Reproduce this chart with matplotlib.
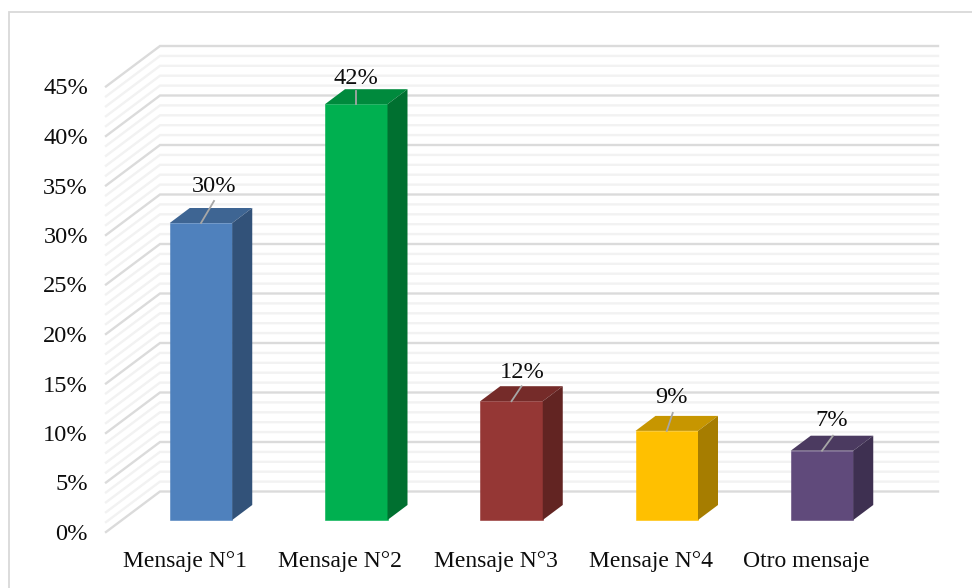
import matplotlib
matplotlib.use("Agg")
import matplotlib.pyplot as plt
from matplotlib.patches import Polygon, Rectangle

categories = ["Mensaje N°1", "Mensaje N°2", "Mensaje N°3", "Mensaje N°4", "Otro mensaje"]
values = [30, 42, 12, 9, 7]
value_labels = ["30%", "42%", "12%", "9%", "7%"]
front_colors = ["#4f81bd", "#00b050", "#953735", "#ffc000", "#604a7b"]
top_colors = ["#3e6593", "#008a3d", "#752b29", "#c79600", "#4b3a60"]
side_colors = ["#325279", "#007030", "#622422", "#a67d00", "#3e3051"]
y_ticks = list(range(0, 50, 5))
label_offsets_px = [(13, 37), (0, 26), (11, 29), (5, 33), (10, 30)]
leader_ends_px = [(13, 22), (0, 13), (10, 15), (6, 18), (11, 15)]

W, H = 972, 588
PX_X = 155.25
PX_Y = 9.9
X0_PX = 185
LEFT, RIGHT, BOTTOM, TOP = 106, 884, 532, 532 - 45 * PX_Y

plt.rcParams["font.family"] = ["Liberation Serif", "DejaVu Serif"]
fig = plt.figure(figsize=(W / 100, H / 100), dpi=100, facecolor="white")
fig.add_artist(Rectangle((9 / W, -0.05), 1.05, 1.05 - 12 / H, transform=fig.transFigure,
                         fill=False, edgecolor="#d9d9d9", linewidth=1.3))

ax = fig.add_axes([LEFT / W, 1 - BOTTOM / H, (RIGHT - LEFT) / W, (BOTTOM - TOP) / H])
ax.patch.set_alpha(0)
ax.set_xlim((LEFT - X0_PX) / PX_X, (RIGHT - X0_PX) / PX_X)
ax.set_ylim(0, 45)
for s in ax.spines.values():
    s.set_visible(False)


def px_x(p):
    return p / PX_X


def px_y(p):
    return p / PX_Y


xmin, xmax = ax.get_xlim()
back_dx, back_dy = px_x(54), px_y(40.5)
for v in range(0, 46):
    major = v % 5 == 0
    ax.plot([xmin, xmin + back_dx, xmax + back_dx], [v, v + back_dy, v + back_dy],
            color="#dbdbdb" if major else "#f2f2f2", lw=1.7,
            clip_on=False, zorder=2 if major else 1, solid_joinstyle="miter")

plane_dx, plane_dy = px_x(16), px_y(12)
bar_w = px_x(62.5)
depth_dx, depth_dy = px_x(20), px_y(15)
positions = list(range(len(categories)))
for i, v in enumerate(values):
    x0 = positions[i] + plane_dx - bar_w / 2
    x1 = x0 + bar_w
    y0 = plane_dy
    y1 = y0 + v
    ax.bar(x0 + bar_w / 2, v, width=bar_w, bottom=y0, color=front_colors[i],
           edgecolor=front_colors[i], linewidth=0.4, zorder=5, clip_on=False)
    ax.add_patch(Polygon([(x0, y1), (x1, y1), (x1 + depth_dx, y1 + depth_dy), (x0 + depth_dx, y1 + depth_dy)],
                         closed=True, facecolor=top_colors[i], edgecolor="none", zorder=5, clip_on=False))
    ax.add_patch(Polygon([(x1, y0), (x1 + depth_dx, y0 + depth_dy), (x1 + depth_dx, y1 + depth_dy), (x1, y1)],
                         closed=True, facecolor=side_colors[i], edgecolor="none", zorder=5, clip_on=False))
    cx = x0 + bar_w / 2
    ax.plot([cx, cx + px_x(leader_ends_px[i][0])], [y1, y1 + px_y(leader_ends_px[i][1])],
            color="#a6a6a6", lw=1.3, zorder=6, clip_on=False)
    ax.text(cx + px_x(label_offsets_px[i][0]), y1 + px_y(label_offsets_px[i][1]), value_labels[i],
            ha="center", va="center", fontsize=17.6, color="#0d0d0d", zorder=7, clip_on=False)

ax.set_xticks(positions)
ax.set_xticklabels(categories)
ax.set_yticks(y_ticks)
ax.set_yticklabels([f"{t}%" for t in y_ticks])
ax.tick_params(axis="both", length=0, labelcolor="#0d0d0d")
ax.tick_params(axis="x", labelsize=17, pad=14)
ax.tick_params(axis="y", labelsize=17.6, pad=13)

fig.savefig("out.png", dpi=100)
